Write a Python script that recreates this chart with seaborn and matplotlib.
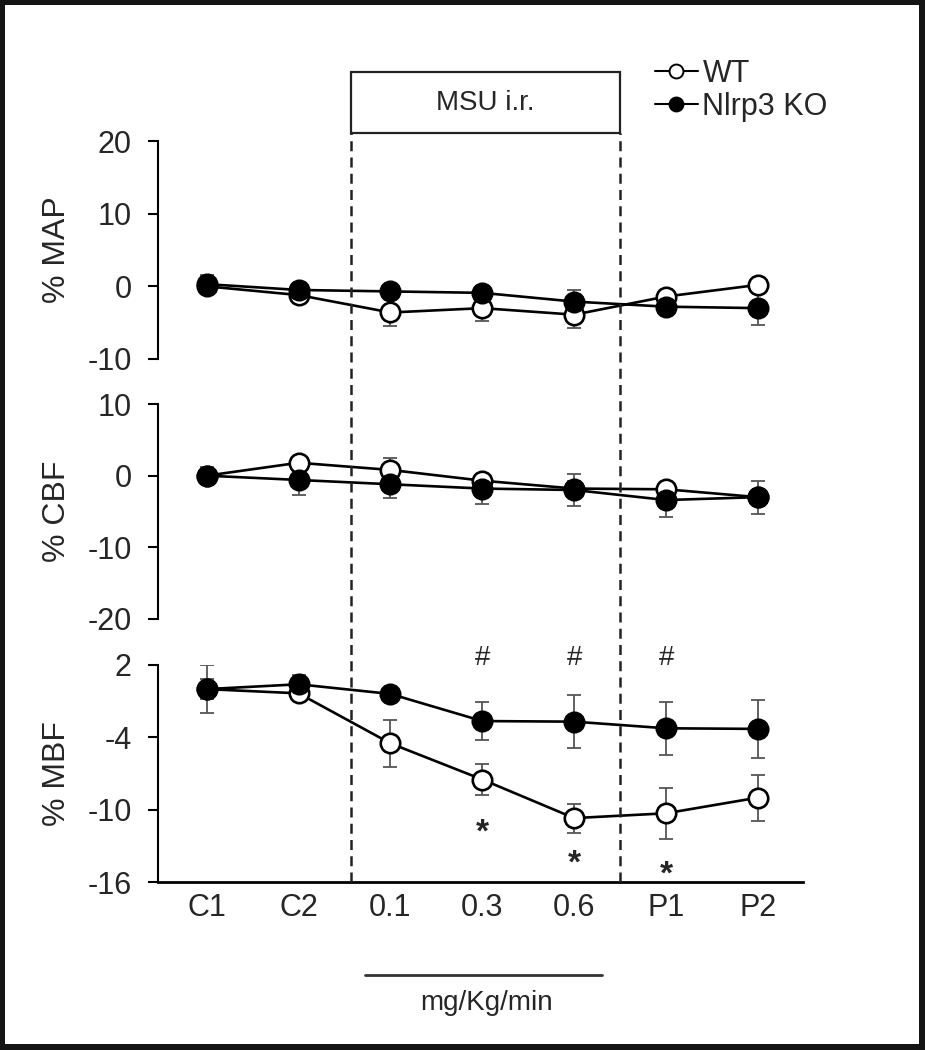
import numpy as np
import pandas as pd
import seaborn as sns
import matplotlib
matplotlib.use("Agg")
import matplotlib.pyplot as plt
import matplotlib.transforms as mtransforms
from matplotlib.lines import Line2D
from matplotlib.patches import Rectangle

# ---------------- data ----------------
categories = ["C1", "C2", "0.1", "0.3", "0.6", "P1", "P2"]

map_wt = [0.0, -1.2, -3.6, -3.0, -3.9, -1.4, 0.2]
map_wt_err = [1.0, 1.1, 1.9, 1.8, 1.8, 0.8, 0.6]
map_ko = [0.3, -0.5, -0.7, -0.9, -2.1, -2.8, -3.0]
map_ko_err = [1.3, 1.0, 0.6, 1.0, 1.6, 0.9, 2.3]

cbf_wt = [0.0, 1.8, 0.8, -0.7, -1.8, -1.9, -3.0]
cbf_wt_err = [0.8, 0.8, 1.7, 0.8, 1.0, 0.8, 1.0]
cbf_ko = [0.0, -0.6, -1.2, -1.8, -2.0, -3.4, -3.0]
cbf_ko_err = [1.2, 2.1, 1.9, 2.1, 2.2, 2.3, 2.3]

mbf_wt = [0.0, -0.35, -4.5, -7.5, -10.7, -10.3, -9.0]
mbf_wt_err = [0.8, 0.6, 1.95, 1.3, 1.2, 2.1, 1.9]
mbf_ko = [0.0, 0.4, -0.4, -2.65, -2.7, -3.25, -3.3]
mbf_ko_err = [2.0, 0.8, 0.5, 1.6, 2.2, 2.2, 2.4]

hash_idx = [3, 4, 5]
hash_y = [2.6, 2.6, 2.6]
star_idx = [3, 4, 5]
star_y = [-11.9, -14.5, -15.4]

series_labels = ["WT", "Nlrp3 KO"]

# ---------------- style ----------------
sns.set_style("white")
plt.rcParams["font.family"] = ["Liberation Sans", "DejaVu Sans"]
FS = 22

fig = plt.figure(figsize=(9.25, 10.5), dpi=100, facecolor="#141414")
fig.add_artist(Rectangle((5 / 925, 6 / 1050), (925 - 11) / 925, (1050 - 11) / 1050,
                         transform=fig.transFigure, facecolor="white",
                         edgecolor="none", zorder=-10))

left, width = 158 / 925, 645 / 925
def frac(top_px, bot_px):
    return [left, 1 - bot_px / 1050, width, (bot_px - top_px) / 1050]

ax1 = fig.add_axes(frac(141, 359))
ax2 = fig.add_axes(frac(404, 619))
ax3 = fig.add_axes(frac(665, 882))

x = np.arange(len(categories))
XLIM = (-0.53, 6.49)


def panel(ax, wt, wte, ko, koe, ylim, yticks, label, bottom=False):
    for vals, errs in ((wt, wte), (ko, koe)):
        ax.errorbar(x, vals, yerr=errs, fmt="none", ecolor="#555555",
                    elinewidth=1.3, capsize=5, capthick=1.3, zorder=2)
    df_wt = pd.DataFrame({"x": x, "v": wt})
    df_ko = pd.DataFrame({"x": x, "v": ko})
    sns.lineplot(data=df_wt, x="x", y="v", ax=ax, errorbar=None, color="black",
                 lw=1.9, marker="o", ms=14, mfc="white", mec="black", mew=1.9,
                 zorder=3)
    sns.lineplot(data=df_ko, x="x", y="v", ax=ax, errorbar=None, color="black",
                 lw=1.9, marker="o", ms=14, mfc="black", mec="black", mew=1.9,
                 zorder=4)
    ax.set_xlim(*XLIM)
    ax.set_ylim(*ylim)
    ax.set_yticks(yticks)
    ax.set_yticklabels([str(t) for t in yticks], fontsize=FS)
    ax.set_ylabel(label, fontsize=FS + 1)
    ax.yaxis.set_label_coords(-0.133, 0.5)
    ax.set_xlabel("")
    ax.set_facecolor("none")
    for s in ("top", "right"):
        ax.spines[s].set_visible(False)
    ax.spines["left"].set_linewidth(1.5)
    ax.spines["left"].set_color("black")
    ax.tick_params(axis="y", length=7, width=1.5, color="black", pad=12,
                   left=True)
    if bottom:
        ax.spines["bottom"].set_linewidth(2)
        ax.spines["bottom"].set_color("black")
        ax.set_xticks(x)
        ax.set_xticklabels(categories, fontsize=FS)
        ax.tick_params(axis="x", length=0, pad=8)
    else:
        ax.spines["bottom"].set_visible(False)
        ax.set_xticks([])


panel(ax1, map_wt, map_wt_err, map_ko, map_ko_err, (-10, 20), [-10, 0, 10, 20], "% MAP")
panel(ax2, cbf_wt, cbf_wt_err, cbf_ko, cbf_ko_err, (-20, 10), [-20, -10, 0, 10], "% CBF")
panel(ax3, mbf_wt, mbf_wt_err, mbf_ko, mbf_ko_err, (-16, 2), [-16, -10, -4, 2], "% MBF",
      bottom=True)

# significance marks
for i, yv in zip(hash_idx, hash_y):
    ax3.text(i, yv, "#", ha="center", va="center", fontsize=20, clip_on=False)
for i, yv in zip(star_idx, star_y):
    ax3.text(i, yv, "*", ha="center", va="center", fontsize=24,
             fontweight="bold", clip_on=False)

# dashed infusion boundaries and MSU box
blend = mtransforms.blended_transform_factory(ax3.transData, fig.transFigure)
box_bottom = 1 - 133 / 1050
box_top = 1 - 72 / 1050
axis_y = 1 - 882 / 1050
for xv in (1.57, 4.5):
    fig.add_artist(Line2D([xv, xv], [axis_y, box_bottom], transform=blend,
                          color="#222222", lw=1.8, linestyle=(0, (4, 2.5))))
fig.add_artist(Rectangle((1.57, box_bottom), 4.5 - 1.57, box_top - box_bottom,
                         transform=blend, facecolor="white", edgecolor="#222222",
                         lw=1.6))
fig.text(3.035, (box_top + box_bottom) / 2, "MSU i.r.", transform=blend,
         ha="center", va="center", fontsize=20)

# dose underline and unit label
fig.add_artist(Line2D([1.725, 4.307], [1 - 975 / 1050] * 2, transform=blend,
                      color="#333333", lw=2))
fig.text(3.05, 1 - 1003 / 1050, "mg/Kg/min", transform=blend, ha="center",
         va="center", fontsize=20)

# legend
handles = [
    Line2D([], [], color="black", lw=1.5, marker="o", ms=10, mfc="white", mec="black", mew=1.4),
    Line2D([], [], color="black", lw=1.5, marker="o", ms=10, mfc="black", mec="black", mew=1.4),
]
fig.legend(handles, series_labels, loc="upper left",
           bbox_to_anchor=(655 / 925, 1 - 59 / 1050), frameon=False,
           fontsize=FS, handlelength=1.4, handletextpad=0.15,
           labelspacing=0.1, borderpad=0, borderaxespad=0)

fig.savefig("out.png", dpi=100, facecolor=fig.get_facecolor())
